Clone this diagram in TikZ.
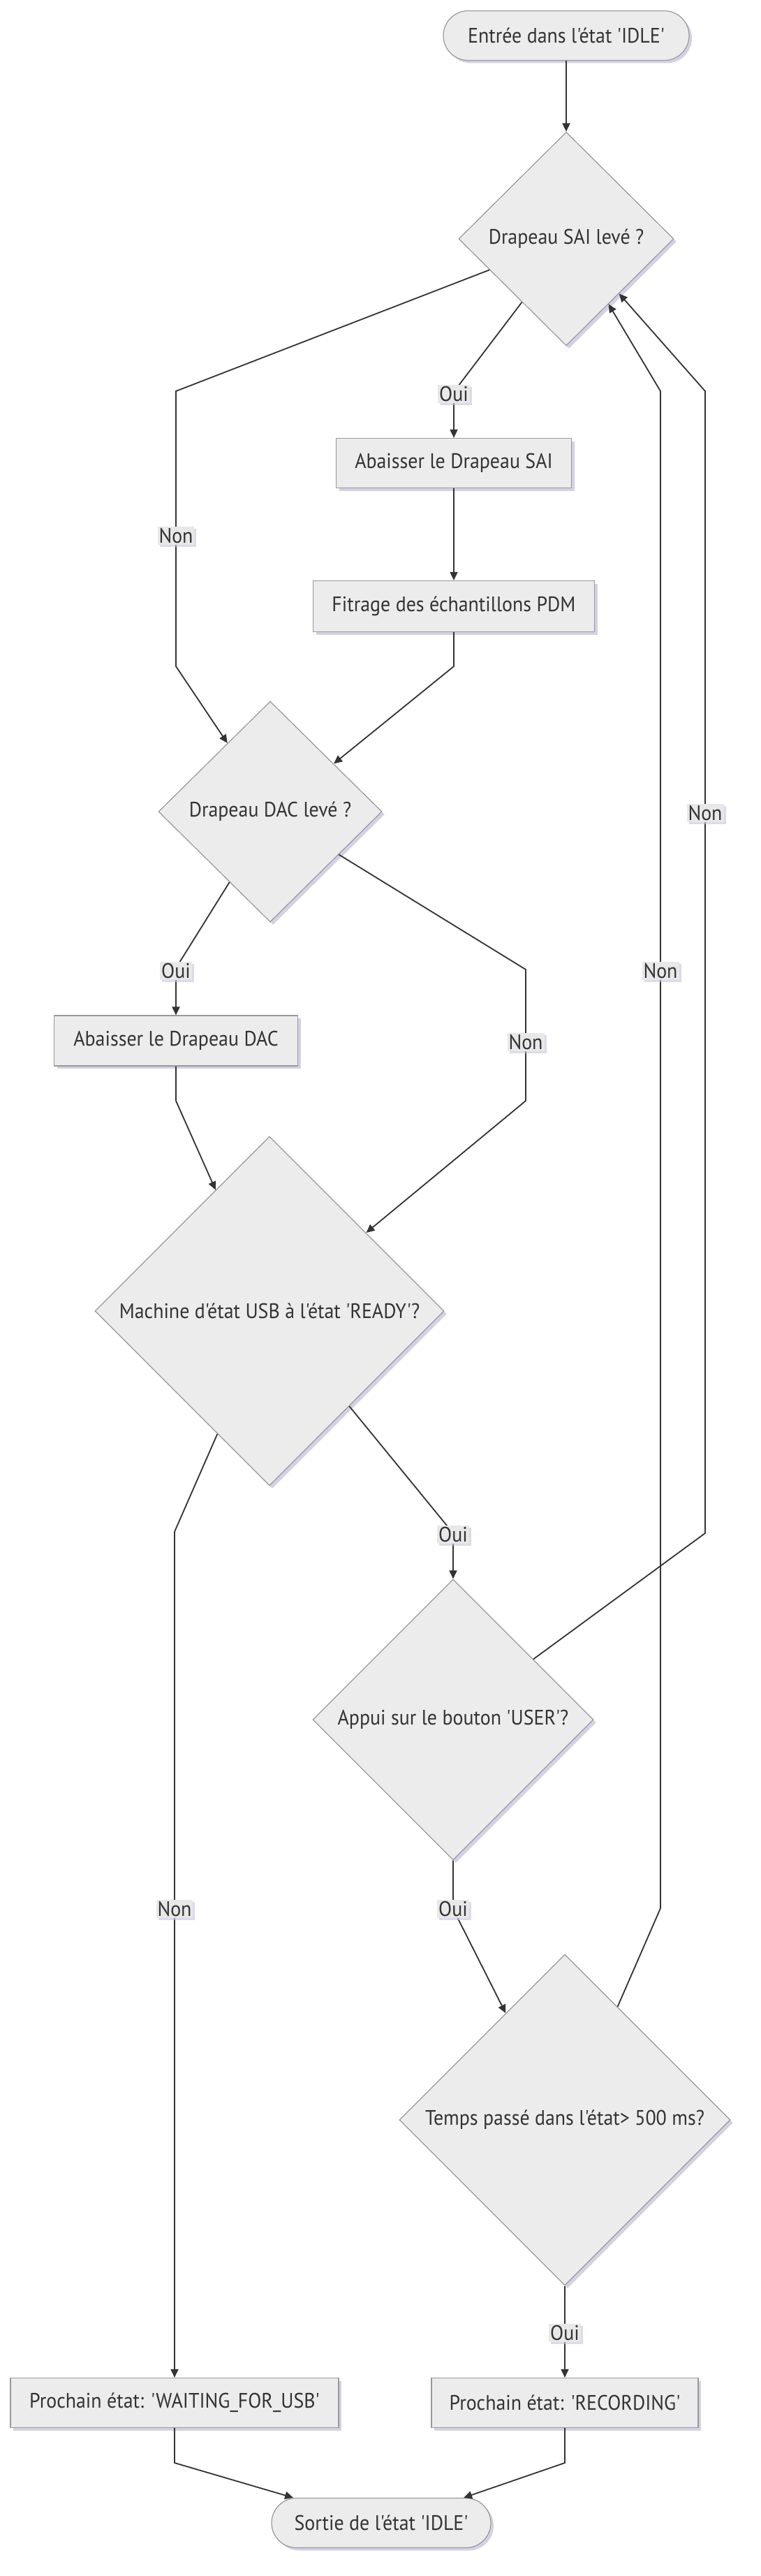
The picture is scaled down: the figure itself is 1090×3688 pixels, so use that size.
\documentclass[tikz,border=0pt]{standalone}
\usepackage{fontspec}
\setmainfont{PT Sans}[FakeStretch=0.93,Ligatures=TeXOff]
\usetikzlibrary{shapes.geometric,arrows.meta,shadows,calc}
\definecolor{nodefill}{RGB}{236,236,236}
\definecolor{nodeline}{RGB}{153,153,153}
\definecolor{txt}{RGB}{51,51,51}
\definecolor{edgec}{RGB}{51,51,51}
\definecolor{shade}{RGB}{196,196,220}
\definecolor{lblfill}{RGB}{232,232,232}
\begin{document}
\begin{tikzpicture}[x=0.5pt,y=-0.5pt,
 base/.style={draw=nodeline, fill=nodefill, line width=0.6pt, text=txt,
   font=\fontsize{15}{18}\selectfont,
   drop shadow={shadow xshift=2pt,shadow yshift=-2pt,fill=shade,opacity=0.75}},
 term/.style={base, rectangle, rounded corners=17.75pt, minimum height=35.5pt, inner sep=0pt},
 proc/.style={base, rectangle, minimum height=35.5pt, inner sep=0pt},
 dec/.style={base, diamond, inner sep=0pt, aspect=1},
 conn/.style={draw=edgec, line width=0.9pt, -{Triangle[length=6pt,width=5.5pt]}},
 lbl/.style={fill=lblfill, text=txt, font=\fontsize{15}{18}\selectfont, inner sep=1pt,
   drop shadow={shadow xshift=1.5pt,shadow yshift=-1.5pt,fill=shade,opacity=0.6}}
]
\fill[white] (0,0) rectangle (1090,3688);
\useasboundingbox (0,0) rectangle (1090,3688);

\node[term, minimum width=176pt] (start) at (811,51) {Entrée dans l'état 'IDLE'};
\node[dec, minimum width=154pt, minimum height=153pt] (sai) at (811,342) {Drapeau SAI levé ?};
\node[proc, minimum width=168.5pt] (abs) at (650,663) {Abaisser le Drapeau SAI};
\node[proc, minimum width=201.5pt, minimum height=36.5pt] (fit) at (650,868) {Fitrage des échantillons PDM};
\node[dec, minimum width=160pt, minimum height=158pt] (dac) at (387,1162) {Drapeau DAC levé ?};
\node[proc, minimum width=174.5pt, minimum height=36pt] (abd) at (252,1490) {Abaisser le Drapeau DAC};
\node[dec, minimum width=250pt, minimum height=250pt] (usb) at (386,1877) {Machine d'état USB à l'état 'READY'?};
\node[dec, minimum width=201pt, minimum height=201pt] (appui) at (649,2462) {Appui sur le bouton 'USER'?};
\node[dec, minimum width=237pt, minimum height=237pt] (temps) at (809,3035) {Temps passé dans l'état> 500 ms?};
\node[proc, minimum width=235pt] (wait) at (250,3440) {Prochain état: 'WAITING\_FOR\_USB'};
\node[proc, minimum width=191pt] (rec) at (809,3440) {Prochain état: 'RECORDING'};
\node[term, minimum width=157pt] (end) at (546,3612) {Sortie de l'état 'IDLE'};

\draw[conn] (start.south) -- (sai.north);
\draw[conn] (sai.-125) -- (650,561) -- (abs.north);
\draw[conn] (sai.202) -- (252,560) -- (252,954) -- (dac.122.7);
\draw[conn] (abs.south) -- (fit.north);
\draw[conn] (fit.south) -- (650,954) -- (dac.37);
\draw[conn] (dac.-120) -- (252,1386) -- (abd.north);
\draw[conn] (dac.-32) -- (753,1388) -- (753,1576) -- (usb.39);
\draw[conn] (abd.south) -- (252,1576) -- (usb.114);
\draw[conn] (usb.-113) -- (250,2193) -- (wait.north);
\draw[conn] (usb.-50) -- (649,2195) -- (appui.north);
\draw[conn] (appui.south) -- (649,2733) -- (temps.119);
\draw[conn] (appui.37) -- (1010,2195) -- (1010,560) -- (sai.-46);
\draw[conn] (temps.65) -- (946,2732) -- (946,560) -- (sai.-57);
\draw[conn] (temps.south) -- (rec.north);
\draw[conn] (wait.south) -- (250,3526) -- (end.164);
\draw[conn] (rec.south) -- (809,3526) -- (end.17);

\node[lbl] (l1) at (650,564) {Oui};
\node[lbl] (l2) at (252,767) {Non};
\node[lbl] (l3) at (252,1390) {Oui};
\node[lbl] (l4) at (753,1492) {Non};
\node[lbl] (l5) at (250,2733) {Non};
\node[lbl] (l6) at (649,2197) {Oui};
\node[lbl] (l7) at (649,2733) {Oui};
\node[lbl] (l8) at (1010,1164) {Non};
\node[lbl] (l9) at (946,1390) {Non};
\node[lbl] (l10) at (809,3340) {Oui};
\end{tikzpicture}
\end{document}
